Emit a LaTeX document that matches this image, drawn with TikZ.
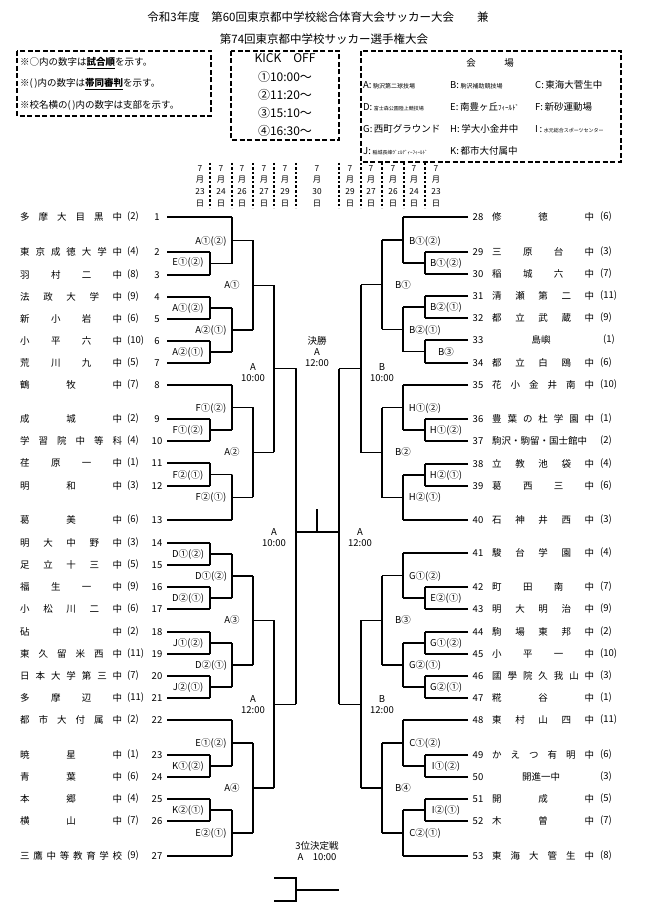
\documentclass[tikz,border=0pt]{standalone}
\usepackage{fontspec}
\setmainfont{Noto Sans CJK JP}
\begin{document}
\begin{tikzpicture}[x=1pt,y=-1pt,
  every node/.style={inner sep=0pt,font=\fontsize{9.5}{11}\selectfont},
  lab/.style={align=center},
  br/.style={line width=1.2pt},
  dbox/.style={line width=1.8pt,dash pattern=on 5pt off 2.5pt},
  dsep/.style={line width=1.2pt,dash pattern=on 2.5pt off 2pt},
  sm/.style={font=\fontsize{6}{7}\selectfont}]
\useasboundingbox (0,0) rectangle (650,920);
\newcommand\pr[4]{\draw[br] (#1,#2)--(#1,#3) (#1,{(#2+#3)/2})--(#4,{(#2+#3)/2});}
% title
\node[font=\fontsize{11.5}{13}\selectfont] (t1) at (318,17) {令和3年度　第60回東京都中学校総合体育大会サッカー大会　　兼};
\node[font=\fontsize{11.5}{13}\selectfont] (t2) at (324,39) {第74回東京都中学校サッカー選手権大会};
% boxes
\draw[dbox] (17,51) rectangle (211,116);
\node[anchor=west] (n1) at (20,63) {※○内の数字は\underline{\textbf{試合順}}を示す。};
\node[anchor=west] (n2) at (20,84) {※(\,)内の数字は\underline{\textbf{帯同審判}}を示す。};
\node[anchor=west] (n3) at (20,105) {※校名横の(\,)内の数字は支部を示す。};
\draw[dbox] (231,51) rectangle (339,140);
\begin{scope}[every node/.style={inner sep=0pt,font=\fontsize{12}{14}\selectfont}]
\node (k0) at (285,58) {KICK　OFF};
\node (k1) at (285,77) {①10:00～};
\node (k2) at (285,95) {②11:20～};
\node (k3) at (285,113) {③15:10～};
\node (k4) at (285,131) {④16:30～};
\end{scope}
\draw[dbox] (361,51) rectangle (621,162);
\node (v0) at (490,63) {会　　　場};
\node[anchor=west] (va) at (363,85) {A:\,{\fontsize{6}{7}\selectfont 駒沢第二球技場}};
\node[anchor=west] (vb) at (450,85) {B:\,{\fontsize{6}{7}\selectfont 駒沢補助競技場}};
\node[anchor=west] (vc) at (535,85) {C:\,東海大菅生中};
\node[anchor=west] (vd) at (363,107) {D:\,{\fontsize{5}{6}\selectfont 富士森公園陸上競技場}};
\node[anchor=west] (ve) at (450,107) {E:\,南豊ヶ丘{\fontsize{7}{8}\selectfont ﾌｨｰﾙﾄﾞ}};
\node[anchor=west] (vf) at (535,107) {F:\,新砂運動場};
\node[anchor=west] (vg) at (363,129) {G:\,西町グラウンド};
\node[anchor=west] (vh) at (450,129) {H:\,学大小金井中};
\node[anchor=west] (vi) at (535,129) {I\,:\,{\fontsize{5}{6}\selectfont 水元総合スポーツセンター}};
\node[anchor=west] (vj) at (363,151) {J:\,{\fontsize{5}{6}\selectfont 稲城長峰ｳﾞｪﾙﾃﾞｨｰﾌｨｰﾙﾄﾞ}};
\node[anchor=west] (vk) at (450,151) {K:\,都市大付属中};
% dates
\foreach \x/\d [count=\i] in {200/23,221/24,242/26,264/27,285/29,317/30,350/29,371/27,393/26,414/24,436/23}
  \node[lab,font=\fontsize{8.3}{11.7}\selectfont] (d\i) at (\x,186) {7\\月\\\d\\日};
\foreach \x in {210,232,253,274,296,339,361,382,404,425}
  \draw[dsep] (\x,163)--(\x,208);
% left teams
\foreach \n/\nm/\p/\y in {1/多 摩 大 目 黒 中/(2)/217,2/東 京 成 徳 大 学 中/(4)/252,3/羽 村 二 中/(8)/275,4/法 政 大 学 中/(9)/297,5/新 小 岩 中/(6)/319,6/小 平 六 中/(10)/341,7/荒 川 九 中/(5)/363,8/鶴 牧 中/(7)/385,9/成 城 中/(2)/419,10/学 習 院 中 等 科/(4)/441,11/荏 原 一 中/(1)/463,12/明 和 中/(3)/486,13/葛 美 中/(6)/520,14/明 大 中 野 中/(3)/543,15/足 立 十 三 中/(5)/565,16/福 生 一 中/(9)/587,17/小 松 川 二 中/(6)/609,18/砧 中/(2)/632,19/東 久 留 米 西 中/(11)/654,20/日 本 大 学 第 三 中/(7)/676,21/多 摩 辺 中/(11)/698,22/都 市 大 付 属 中/(2)/720,23/暁 星 中/(1)/755,24/青 葉 中/(6)/777,25/本 郷 中/(4)/799,26/横 山 中/(7)/821,27/三 鷹 中 等 教 育 学 校/(9)/856}{
  \node[anchor=west] (tn\n) at (20,\y) {\makebox[102pt][s]{\nm}};
  \node[anchor=west] (tp\n) at (127,\y) {\p};
  \node (tc\n) at (157,\y) {\n};}
% right teams
\foreach \n/\nm/\p/\y in {28/修 徳 中/(6)/217,29/三 原 台 中/(3)/252,30/稲 城 六 中/(7)/274,31/清 瀬 第 二 中/(11)/296,32/都 立 武 蔵 中/(9)/318,34/都 立 白 鴎 中/(6)/363,35/花 小 金 井 南 中/(10)/385,36/豊 葉 の 杜 学 園 中/(1)/419,37/駒沢・駒留・国士館中/(2)/441,38/立 教 池 袋 中/(4)/464,39/葛 西 三 中/(6)/486,40/石 神 井 西 中/(3)/520,41/駿 台 学 園 中/(4)/553,42/町 田 南 中/(7)/587,43/明 大 明 治 中/(9)/609,44/駒 場 東 邦 中/(2)/632,45/小 平 一 中/(10)/654,46/國 學 院 久 我 山 中/(3)/676,47/糀 谷 中/(1)/698,48/東 村 山 四 中/(11)/720,49/か え つ 有 明 中/(6)/755,51/開 成 中/(5)/799,52/木 曽 中/(7)/821,53/東 海 大 管 生 中/(8)/856}{
  \node[anchor=west] (tn\n) at (492,\y) {\makebox[102pt][s]{\nm}};
  \node[anchor=west] (tp\n) at (600,\y) {\p};
  \node (tc\n) at (478,\y) {\n};}
\node (tn33) at (541,340) {島嶼}; \node[anchor=west] (tp33) at (603,340) {(1)}; \node (tc33) at (478,340) {33};
\node (tn50) at (541,777) {開進一中}; \node[anchor=west] (tp50) at (600,777) {(3)}; \node (tc50) at (478,777) {50};
% left team lines
\foreach \y in {252,275,297,319,341,363,419,441,463,486,543,565,587,609,632,654,676,698,755,777,799,821} \draw[br] (167,\y)--(210,\y);
\foreach \y in {217,385,520,720,856} \draw[br] (167,\y)--(232,\y);
\foreach \a/\b in {252/275,297/319,341/363,419/441,463/486,543/565,587/609,632/654,676/698,755/777,799/821} \pr{210}{\a}{\b}{232}
\foreach \a/\b in {217/263.5,308/352,385/430,474.5/520,554/598,643/687,720/766,810/856} \pr{232}{\a}{\b}{253}
\foreach \a/\b in {240.25/330,407.5/497.25,576/665,743/833} \pr{253}{\a}{\b}{274}
\foreach \a/\b in {285.1/452.4,620.5/788} \pr{274}{\a}{\b}{296}
\draw[br] (296,368.8)--(296,704.25);
% right team lines
\foreach \y in {252,274,296,318,340,363,419,441,464,486,587,609,632,654,676,698,755,777,799,821} \draw[br] (468,\y)--(425,\y);
\foreach \y in {217,385,520,553,720,856} \draw[br] (468,\y)--(403,\y);
\foreach \a/\b in {252/274,296/318,340/363,419/441,464/486,587/609,632/654,676/698,755/777,799/821} \pr{425}{\a}{\b}{403}
\foreach \a/\b in {217/263,307/351.5,385/430,475/520,553/598,643/687,720/766,810/856} \pr{403}{\a}{\b}{382}
\foreach \a/\b in {240/329.25,407.5/497.5,575.5/665,743/833} \pr{382}{\a}{\b}{361}
\foreach \a/\b in {284.6/452.5,620.25/788} \pr{361}{\a}{\b}{339}
\draw[br] (339,368.6)--(339,704.1);
% final
\draw[br] (296,532)--(339,532) (317,532)--(317,509);
% third place
\draw[br] (274,878)--(296,878)--(296,901)--(274,901) (296,890)--(339,890);
% left labels
\foreach \x/\y/\t [count=\i] in {188/262/E①(②),211/241/A①(②),188/308/A①(②),188/352/A②(①),211/330/A②(①),232/285/A①,
 211/408/F①(②),188/430/F①(②),188/475/F②(①),211/497/F②(①),232/452/A②,
 188/554/D①(②),211/576/D①(②),188/598/D②(①),232/620/A③,188/643/J①(②),211/665/D②(①),188/687/J②(①),
 211/743/E①(②),188/766/K①(②),232/788/A④,188/810/K②(①),211/833/E②(①)}
  \node (ll\i) at (\x,\y) {\t};
% right labels
\foreach \x/\y/\t [count=\i] in {425/241/B①(②),446/263/B①(②),403/285/B①,446/307/B②(①),425/330/B②(①),446/352/B③,
 425/408/H①(②),446/430/H①(②),403/452/B②,446/475/H②(①),425/497/H②(①),
 425/576/G①(②),446/598/E②(①),403/620/B③,446/643/G①(②),425/665/G②(①),446/687/G②(①),
 425/743/C①(②),446/766/I①(②),403/788/B④,446/810/I②(①),425/833/C②(①)}
  \node (rl\i) at (\x,\y) {\t};
% time labels
\node[lab] (m1) at (253,373) {A\\10:00};
\node[lab] (m2) at (253,705) {A\\12:00};
\node[lab] (m3) at (382,373) {B\\10:00};
\node[lab] (m4) at (382,705) {B\\12:00};
\node[lab] (m5) at (274,538) {A\\10:00};
\node[lab] (m6) at (360,538) {A\\12:00};
\node[lab] (m7) at (317,352) {決勝\\A\\12:00};
\node[lab] (m8) at (317,851) {3位決定戦\\A　10:00};
\end{tikzpicture}
\end{document}
